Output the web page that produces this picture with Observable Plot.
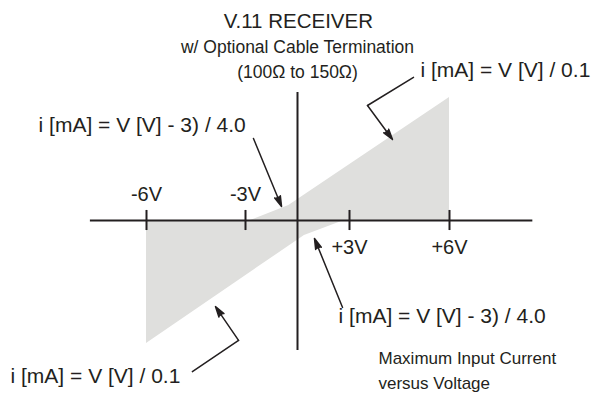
<!DOCTYPE html>
<html>
<head>
<meta charset="utf-8">
<script src="https://cdn.jsdelivr.net/npm/d3@7"></script>
<script src="https://cdn.jsdelivr.net/npm/@observablehq/plot@0.6"></script>
<style>
  html, body { margin: 0; padding: 0; background: #fff; }
</style>
</head>
<body>
<script>
// ---- data (volts on x, schematic current on y) ----
const tickVolts = [-6, -3, 3, 6];
const tickLabels = ["-6V", "-3V", "+3V", "+6V"];
const tickLabelI = [9.3, 9.3, -16.1, -16.1];

// positive-current region (upper right)
const upperV = [-2.7, -0.5, 6];
const upperI = [0, 7.3, 60];
// negative-current region (lower left)
const lowerV = [-6, 0.4, 2.7];
const lowerI = [-60, -7.3, 0];

// axis extents
const axisV = [-7.7, 8.5];
const axisI = [62.4, -63.4];
const tickHalf = 4.9;

// headings
const headTexts = ["V.11 RECEIVER", "w/ Optional Cable Termination", "(100\u03A9 to 150\u03A9)"];
const headV = [0.05, 0, 0];
const headI = [94.1, 81.6, 69.6];

// formula annotations
const formulaTexts = [
  "i [mA] = V [V] / 0.1",
  "i [mA] = V [V] - 3) / 4.0",
  "i [mA] = V [V] - 3) / 4.0",
  "i [mA] = V [V] / 0.1"
];
const formulaV = [5.13, -9.27, 2.37, -10.12];
const formulaI = [69.8, 43.4, -49.8, -79.5];

// caption
const captionTexts = ["Maximum Input Current", "versus Voltage"];
const captionV = [3.87, 3.87];
const captionI = [-69.8, -82.0];

// leader lines (bent parts) and arrow segments
const leaderV = [[4.92, 3.54], [-4.61, -3.21]];
const leaderI = [[69.8, 56.1], [-73.7, -58.5]];
const arrowV1 = [-2.54, 3.54, 2.60, -3.21];
const arrowI1 = [40.0, 56.1, -42.4, -58.5];
const arrowV2 = [-0.92, 4.29, 0.98, -3.91];
const arrowI2 = [6.8, 39.5, -8.8, -42.0];

// ---- build tables ----
const upper = upperV.map((v, k) => ({v, i: upperI[k]}));
const lower = lowerV.map((v, k) => ({v, i: lowerI[k]}));
const ticks = tickVolts.map((v, k) => ({v, label: tickLabels[k], li: tickLabelI[k]}));
const heads = headTexts.map((t, k) => ({t, v: headV[k], i: headI[k]}));
const formulas = formulaTexts.map((t, k) => ({t, v: formulaV[k], i: formulaI[k]}));
const captions = captionTexts.map((t, k) => ({t, v: captionV[k], i: captionI[k]}));
const leaders = leaderV.flatMap((vs, k) => vs.map((v, j) => ({g: k, v, i: leaderI[k][j]})));
const arrows = arrowV1.map((v, k) => ({v1: v, i1: arrowI1[k], v2: arrowV2[k], i2: arrowI2[k]}));

const ink = "#231f20";
const font = "'Liberation Sans', Arial, sans-serif";

const chart = Plot.plot({
  width: 595,
  height: 398,
  margin: 0,
  style: {fontFamily: font, background: "#fff", color: ink},
  x: {type: "linear", domain: [-6, -3, 0, 3, 6], range: [146, 245, 297, 349, 449], axis: null},
  y: {type: "linear", domain: [-60, 60], range: [343, 97], axis: null},
  marks: [
    Plot.areaY(upper, {x: "v", y1: 0, y2: "i", fill: "#dfdfdd"}),
    Plot.areaY(lower, {x: "v", y1: 0, y2: "i", fill: "#dfdfdd"}),
    Plot.ruleY([0], {x1: axisV[0], x2: axisV[1], stroke: ink, strokeWidth: 2}),
    Plot.ruleX([0], {y1: axisI[0], y2: axisI[1], stroke: ink, strokeWidth: 2}),
    Plot.ruleX(ticks, {x: "v", y1: -tickHalf, y2: tickHalf, stroke: ink, strokeWidth: 2}),
    Plot.text(ticks, {x: "v", y: "li", text: "label", lineAnchor: "bottom", textAnchor: "middle", fontSize: 20, fill: ink}),
    Plot.text(heads, {x: "v", y: "i", text: "t", lineAnchor: "bottom", textAnchor: "middle",
      fontSize: (d, k) => [20.5, 17.5, 17.5][k], fill: ink}),
    Plot.text(formulas, {x: "v", y: "i", text: "t", lineAnchor: "bottom", textAnchor: "start", fontSize: 21, fill: ink}),
    Plot.text(captions, {x: "v", y: "i", text: "t", lineAnchor: "bottom", textAnchor: "start", fontSize: 17, fill: ink}),
    Plot.line(leaders, {x: "v", y: "i", z: "g", stroke: ink, strokeWidth: 1.5}),
    Plot.arrow(arrows, {x1: "v1", y1: "i1", x2: "v2", y2: "i2", stroke: ink, fill: ink, strokeWidth: 1.5,
      strokeLinejoin: "miter", headLength: 11, headAngle: 32})
  ]
});
document.body.appendChild(chart);
</script>
</body>
</html>
